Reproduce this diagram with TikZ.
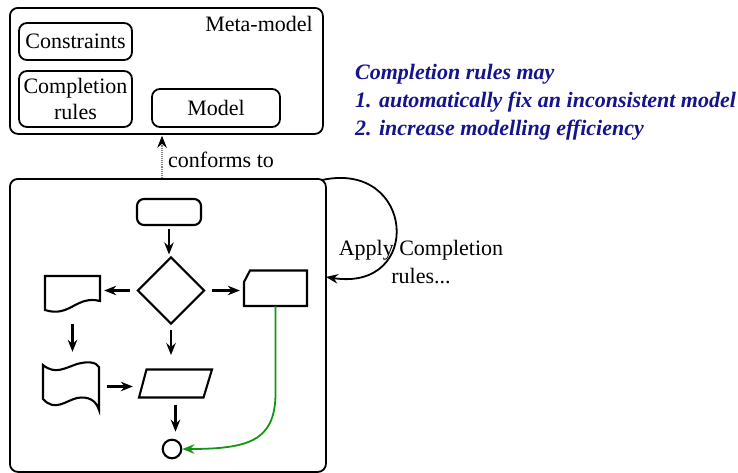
\documentclass[tikz,border=0pt]{standalone}
\usepackage{fontspec}
\setmainfont{Liberation Serif}
\usetikzlibrary{arrows.meta,shapes.geometric}
\definecolor{navytext}{RGB}{20,20,140}
\definecolor{greenline}{RGB}{20,150,20}
\tikzset{
  basefont/.style={font=\fontsize{22pt}{26pt}\selectfont},
  box/.style={draw, rounded corners=8pt, line width=1.8pt, inner sep=0},
  inbox/.style={draw, rounded corners=8pt, line width=1.8pt, inner sep=0, align=center},
  ghost/.style={inner sep=0, minimum width=#1},
  arr/.style={-{Stealth[length=12pt,width=9.5pt,inset=4pt]}, line width=2.1pt},
  shp/.style={line width=2.1pt}
}
\begin{document}
\begin{tikzpicture}[x=1pt,y=-1pt, every node/.style={basefont}]
\useasboundingbox (0,0) rectangle (738,472);

% meta-model
\node[box, minimum width=313pt, minimum height=126pt, anchor=north west] (meta) at (9,7) {};
\node[anchor=base east, inner sep=0] (mmlabel) at (313,31.5) {Meta-model};
\node[inbox, minimum width=113pt, minimum height=37pt] (cons) at (75.5,41.5) {Constraints};
\node[inbox, minimum width=113pt, minimum height=56pt] (comp) at (75.5,99) {Completion\\rules};
\node[inbox, minimum width=128pt, minimum height=38pt] (model) at (216,108) {Model};

% model box
\node[box, minimum width=316pt, minimum height=293pt, anchor=north west] (big) at (9,178) {};
\coordinate (cf) at (162,178);
\draw[densely dotted, gray, line width=1.1pt, -{Stealth[length=12pt,width=9.5pt,inset=4pt,black,line width=1pt]}, shorten >=1pt] (cf) -- (cf |- meta.south);
\node[anchor=base west, inner sep=0] (conf) at (168,167) {conforms to};

% flowchart
\node[draw, rounded corners=7pt, line width=2.1pt, minimum width=64pt, minimum height=26pt, inner sep=0] (start) at (169,212) {};
\node[draw, diamond, line width=2.1pt, minimum width=67pt, minimum height=67pt, inner sep=0] (dia) at (171,290.5) {};
\node[ghost=55pt, minimum height=34pt] (doc) at (72.5,293) {};
\draw[shp] (45,276) -- (100,276) -- (100,301) .. controls (76,295) and (70,318) .. (45,310) -- cycle;
\node[ghost=63pt, minimum height=35.5pt] (card) at (275.5,288.25) {};
\draw[shp] (250,270.5) -- (307,270.5) -- (307,306) -- (244,306) -- (244,282) -- cycle;
\node[ghost=56pt, minimum height=47pt] (tape) at (71,386.5) {};
\draw[shp] (43,365) .. controls (55,375) and (65,368) .. (77,364) .. controls (88,361) and (96,362) .. (99,367)
  -- (99,410) .. controls (96,400) and (88,396) .. (77,398) .. controls (65,401) and (55,412) .. (43,399) -- cycle;
\node[ghost=73pt, minimum height=28.5pt] (para) at (175.5,383.5) {};
\draw[shp] (146.5,369.5) -- (212,369.5) -- (203.5,397.5) -- (139,397.5) -- cycle;
\node[draw, circle, line width=2.1pt, minimum size=18.6pt, inner sep=0] (end) at (172,449) {};

\draw[arr, shorten <=3pt, shorten >=1.5pt] (start.south) -- (start.south |- dia.north);
\draw[arr, shorten <=6pt, shorten >=4pt] (dia.west) -- (dia.west -| doc.east);
\draw[arr, shorten <=6pt, shorten >=4pt] (dia.east) -- (dia.east -| card.west);
\draw[arr, shorten <=5pt, shorten >=14pt] (dia.south) -- (dia.south |- para.north);
\draw[arr, shorten <=14pt, shorten >=11pt] (doc.south) -- (doc.south |- tape.north);
\draw[arr, shorten <=8pt, shorten >=6pt] (tape.east) -- (tape.east -| para.west);
\draw[arr, shorten <=7pt, shorten >=7pt] (para.south) -- (para.south |- end.north);
\draw[arr, greenline, line width=1.8pt] (card.south) -- ++(0,90) .. controls (274,440) and (250,449) .. (end.east);

% loop
\coordinate (ls) at (322,180);
\coordinate (le) at (326,277);
\draw[arr, line width=1.8pt] (ls) .. controls (415,160) and (424,292) .. (le);
\node[align=center, inner sep=0, font=\fontsize{22pt}{28.5pt}\selectfont] (apply) at (421,262) {Apply Completion\\rules...};

% note
\node[anchor=north west, align=left, inner sep=0, text=navytext, font=\fontsize{22pt}{28pt}\selectfont\bfseries\itshape] (note) at (355,64)
  {Completion rules may\\1. automatically fix an inconsistent model\\2. increase modelling efficiency};
\end{tikzpicture}
\end{document}
